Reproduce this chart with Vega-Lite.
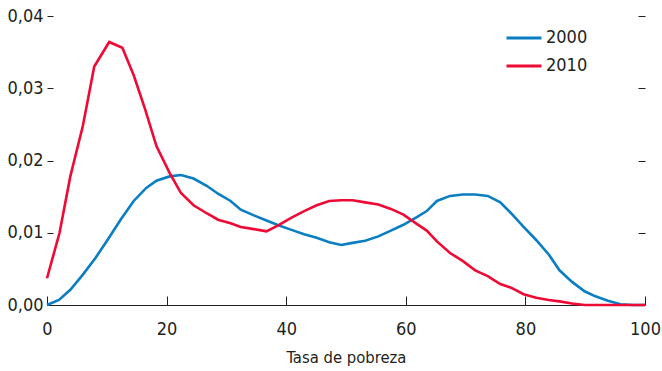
{
  "$schema": "https://vega.github.io/schema/vega-lite/v6.json",
  "width": 598,
  "height": 289,
  "autosize": "none",
  "padding": {"left": 47, "top": 16, "right": 17, "bottom": 66},
  "config": {
    "view": {"stroke": null},
    "font": "DejaVu Sans Condensed, Roboto, sans-serif",
    "axis": {"grid": false, "labelFont": "DejaVu Sans Condensed, Roboto, sans-serif", "titleFont": "DejaVu Sans Condensed, Roboto, sans-serif", "labelColor": "#231f20", "titleColor": "#231f20", "titleFontWeight": "normal"},
    "legend": {"labelFont": "DejaVu Sans Condensed, Roboto, sans-serif"}
  },
  "datasets": {
    "d": [
      {"x": 0, "y": 0.0000, "s": "2000"},
      {"x": 2, "y": 0.0007, "s": "2000"},
      {"x": 3.9, "y": 0.0021, "s": "2000"},
      {"x": 6, "y": 0.0042, "s": "2000"},
      {"x": 8.1, "y": 0.0065, "s": "2000"},
      {"x": 10.2, "y": 0.0091, "s": "2000"},
      {"x": 12.3, "y": 0.0118, "s": "2000"},
      {"x": 14.5, "y": 0.0144, "s": "2000"},
      {"x": 16.6, "y": 0.0162, "s": "2000"},
      {"x": 18.3, "y": 0.0172, "s": "2000"},
      {"x": 20.5, "y": 0.0178, "s": "2000"},
      {"x": 22.4, "y": 0.0180, "s": "2000"},
      {"x": 24.5, "y": 0.0175, "s": "2000"},
      {"x": 26.7, "y": 0.0165, "s": "2000"},
      {"x": 28.6, "y": 0.0154, "s": "2000"},
      {"x": 30.7, "y": 0.0144, "s": "2000"},
      {"x": 32.4, "y": 0.0132, "s": "2000"},
      {"x": 34.6, "y": 0.0124, "s": "2000"},
      {"x": 36.7, "y": 0.0117, "s": "2000"},
      {"x": 38.8, "y": 0.0110, "s": "2000"},
      {"x": 40.9, "y": 0.0104, "s": "2000"},
      {"x": 43, "y": 0.0098, "s": "2000"},
      {"x": 45.1, "y": 0.0093, "s": "2000"},
      {"x": 47.2, "y": 0.0087, "s": "2000"},
      {"x": 49.2, "y": 0.0083, "s": "2000"},
      {"x": 51.1, "y": 0.0086, "s": "2000"},
      {"x": 53.2, "y": 0.0089, "s": "2000"},
      {"x": 55.4, "y": 0.0095, "s": "2000"},
      {"x": 57.5, "y": 0.0103, "s": "2000"},
      {"x": 59.6, "y": 0.0111, "s": "2000"},
      {"x": 61.7, "y": 0.0121, "s": "2000"},
      {"x": 63.5, "y": 0.0130, "s": "2000"},
      {"x": 65.2, "y": 0.0144, "s": "2000"},
      {"x": 67.4, "y": 0.0151, "s": "2000"},
      {"x": 69.5, "y": 0.0153, "s": "2000"},
      {"x": 71.6, "y": 0.0153, "s": "2000"},
      {"x": 73.7, "y": 0.0151, "s": "2000"},
      {"x": 75.8, "y": 0.0142, "s": "2000"},
      {"x": 77.6, "y": 0.0127, "s": "2000"},
      {"x": 79.7, "y": 0.0108, "s": "2000"},
      {"x": 81.8, "y": 0.0090, "s": "2000"},
      {"x": 83.9, "y": 0.0070, "s": "2000"},
      {"x": 85.7, "y": 0.0048, "s": "2000"},
      {"x": 87.8, "y": 0.0032, "s": "2000"},
      {"x": 89.9, "y": 0.0019, "s": "2000"},
      {"x": 91.7, "y": 0.0012, "s": "2000"},
      {"x": 93.8, "y": 0.0006, "s": "2000"},
      {"x": 95.9, "y": 0.0001, "s": "2000"},
      {"x": 98, "y": 0.0000, "s": "2000"},
      {"x": 100, "y": 0.0000, "s": "2000"},
      {"x": 0, "y": 0.0037, "s": "2010"},
      {"x": 2.1, "y": 0.0100, "s": "2010"},
      {"x": 3.9, "y": 0.0178, "s": "2010"},
      {"x": 6, "y": 0.0248, "s": "2010"},
      {"x": 7.9, "y": 0.0330, "s": "2010"},
      {"x": 10.4, "y": 0.0364, "s": "2010"},
      {"x": 12.6, "y": 0.0356, "s": "2010"},
      {"x": 14.5, "y": 0.0318, "s": "2010"},
      {"x": 16.4, "y": 0.0271, "s": "2010"},
      {"x": 18.3, "y": 0.0220, "s": "2010"},
      {"x": 20.5, "y": 0.0183, "s": "2010"},
      {"x": 22.4, "y": 0.0155, "s": "2010"},
      {"x": 24.5, "y": 0.0138, "s": "2010"},
      {"x": 26.7, "y": 0.0127, "s": "2010"},
      {"x": 28.6, "y": 0.0118, "s": "2010"},
      {"x": 30.7, "y": 0.0113, "s": "2010"},
      {"x": 32.4, "y": 0.0108, "s": "2010"},
      {"x": 34.6, "y": 0.0105, "s": "2010"},
      {"x": 36.7, "y": 0.0102, "s": "2010"},
      {"x": 38.8, "y": 0.0111, "s": "2010"},
      {"x": 40.9, "y": 0.0121, "s": "2010"},
      {"x": 43, "y": 0.0130, "s": "2010"},
      {"x": 45.1, "y": 0.0138, "s": "2010"},
      {"x": 47.2, "y": 0.0144, "s": "2010"},
      {"x": 49.2, "y": 0.0145, "s": "2010"},
      {"x": 51.1, "y": 0.0145, "s": "2010"},
      {"x": 53.2, "y": 0.0142, "s": "2010"},
      {"x": 55.4, "y": 0.0139, "s": "2010"},
      {"x": 57.5, "y": 0.0133, "s": "2010"},
      {"x": 59.6, "y": 0.0125, "s": "2010"},
      {"x": 61.7, "y": 0.0113, "s": "2010"},
      {"x": 63.5, "y": 0.0103, "s": "2010"},
      {"x": 65.2, "y": 0.0088, "s": "2010"},
      {"x": 67.4, "y": 0.0072, "s": "2010"},
      {"x": 69.5, "y": 0.0061, "s": "2010"},
      {"x": 71.6, "y": 0.0048, "s": "2010"},
      {"x": 73.7, "y": 0.0040, "s": "2010"},
      {"x": 75.8, "y": 0.0029, "s": "2010"},
      {"x": 77.6, "y": 0.0024, "s": "2010"},
      {"x": 79.7, "y": 0.0015, "s": "2010"},
      {"x": 81.8, "y": 0.0010, "s": "2010"},
      {"x": 83.9, "y": 0.0007, "s": "2010"},
      {"x": 85.7, "y": 0.0005, "s": "2010"},
      {"x": 87.8, "y": 0.0002, "s": "2010"},
      {"x": 89.9, "y": 0.0000, "s": "2010"},
      {"x": 91.7, "y": 0.0000, "s": "2010"},
      {"x": 93.8, "y": -0.0002, "s": "2010"},
      {"x": 95.9, "y": -0.0002, "s": "2010"},
      {"x": 100, "y": -0.0002, "s": "2010"}
    ]
  },
  "data": {"name": "d"},
  "layer": [
    {
      "mark": {"type": "line", "strokeWidth": 2.6, "interpolate": "linear"},
      "encoding": {
        "x": {
          "field": "x", "type": "quantitative",
          "scale": {"domain": [0, 100], "nice": false},
          "axis": {
            "title": "Tasa de pobreza", "values": [0, 20, 40, 60, 80, 100],
            "format": "d", "labelFontSize": 18, "titleFontSize": 16.5,
            "domainColor": "#231f20", "domainWidth": 1.2,
            "tickColor": "#231f20", "tickSize": -9, "tickWidth": 1,
            "labelPadding": 24, "titlePadding": 11, "labelFlush": false
          }
        },
        "y": {
          "field": "y", "type": "quantitative",
          "scale": {"domain": [0, 0.04], "nice": false, "clamp": true},
          "axis": {
            "title": null, "values": [0, 0.01, 0.02, 0.03, 0.04],
            "labelExpr": "replace(format(datum.value, '.2f'), '.', ',')",
            "labelFontSize": 18, "domain": false,
            "tickColor": "#231f20", "tickSize": -6, "tickWidth": 1,
            "labelPadding": 10
          }
        },
        "color": {
          "field": "s", "type": "nominal",
          "scale": {"domain": ["2000", "2010"], "range": ["#0a7ec2", "#ee0a35"]},
          "legend": {
            "title": null, "orient": "none", "legendX": 458, "legendY": 3,
            "symbolType": "stroke", "symbolStrokeWidth": 3, "symbolSize": 1225,
            "labelFontSize": 18, "labelColor": "#231f20", "rowPadding": -8,
            "labelOffset": 3
          }
        }
      }
    },
    {
      "mark": {"type": "rule", "opacity": 0},
      "encoding": {
        "y": {
          "field": "y", "type": "quantitative",
          "axis": {
            "orient": "right", "title": null, "labels": false, "domain": false,
            "values": [0.01, 0.02, 0.03, 0.04],
            "tickColor": "#231f20", "tickSize": -7, "tickWidth": 1
          }
        }
      }
    }
  ],
  "resolve": {"scale": {"y": "shared"}, "axis": {"y": "independent"}}
}
